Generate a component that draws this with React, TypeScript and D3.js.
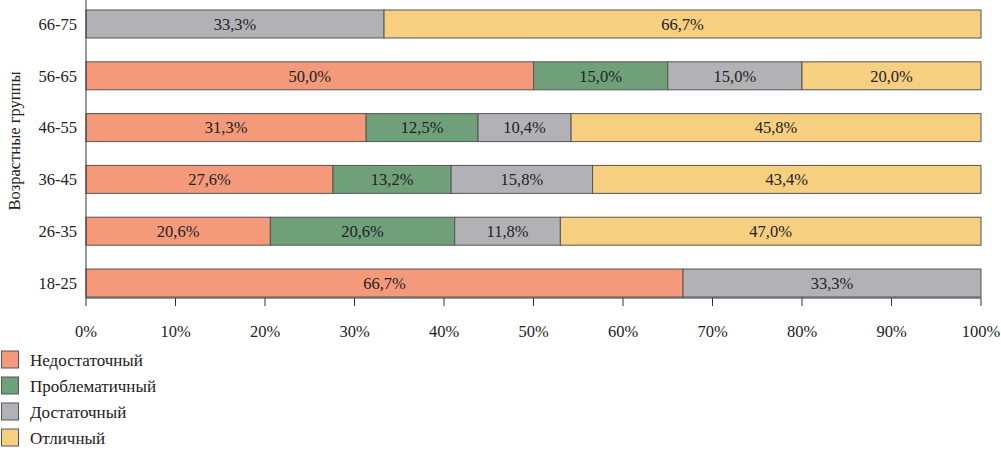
import React from "react";
import * as d3 from "d3";

const groups = ["66-75", "56-65", "46-55", "36-45", "26-35", "18-25"];
const seriesNames = ["Недостаточный", "Проблематичный", "Достаточный", "Отличный"];
const colors = ["#F4997A", "#6FA07A", "#B2B2B6", "#F7CF80"];
const insufficient = [0, 50.0, 31.3, 27.6, 20.6, 66.7];
const problematic = [0, 15.0, 12.5, 13.2, 20.6, 0];
const sufficient = [33.3, 15.0, 10.4, 15.8, 11.8, 33.3];
const excellent = [66.7, 20.0, 45.8, 43.4, 47.0, 0];
const xTicks = [0, 10, 20, 30, 40, 50, 60, 70, 80, 90, 100];

const seriesValues = [insufficient, problematic, sufficient, excellent];

const fstyle = { fontFamily: '"Liberation Serif", "FreeSerif", serif' };

export default function App() {
  const W = 1001, H = 450;
  const x = d3.scaleLinear().domain([0, 100]).range([86, 981]);
  const y = d3.scaleBand<string>().domain(groups).range([10, 297]).paddingInner(0.46).paddingOuter(0);
  const axisY = 298;

  const rows = groups.map((g, i) => {
    let acc = 0;
    return seriesValues.map((vals, s) => {
      const v = vals[i];
      const start = acc;
      acc += v;
      return { g, s, v, start, end: acc };
    });
  });

  return (
    <svg width={W} height={H} style={{ position: "absolute", left: 0, top: 0 }}>
      {rows.map((r) =>
        r.filter((d) => d.v > 0).map((d) => (
          <g key={d.g + d.s}>
            <rect
              x={x(d.start)}
              y={y(d.g)}
              width={x(d.end) - x(d.start)}
              height={y.bandwidth()}
              fill={colors[d.s]}
              stroke="#555"
              strokeWidth={1}
            />
            <text
              x={(x(d.start) + x(d.end)) / 2}
              y={(y(d.g) as number) + y.bandwidth() / 2}
              dy="0.35em"
              textAnchor="middle"
              fontSize={16.5}
              fill="#222"
              style={fstyle}
            >
              {d.v.toFixed(1).replace(".", ",") + "%"}
            </text>
          </g>
        ))
      )}
      <line x1={86} x2={86} y1={0} y2={axisY} stroke="#333" strokeWidth={1} />
      <line x1={86} x2={981} y1={axisY} y2={axisY} stroke="#333" strokeWidth={1} />
      {xTicks.map((t) => (
        <g key={t}>
          <line x1={x(t)} x2={x(t)} y1={axisY} y2={axisY + 8} stroke="#333" strokeWidth={1} />
          <text x={x(t)} y={337} textAnchor="middle" fontSize={16.5} fill="#222" style={fstyle}>
            {t + "%"}
          </text>
        </g>
      ))}
      {groups.map((g) => (
        <text key={g} x={77} y={(y(g) as number) + y.bandwidth() / 2} dy="0.35em" textAnchor="end" fontSize={16.5} fill="#222" style={fstyle}>
          {g}
        </text>
      ))}
      <text transform="translate(20,141) rotate(-90)" textAnchor="middle" fontSize={16.5} fill="#222" style={fstyle}>
        Возрастные группы
      </text>
      {seriesNames.map((n, i) => (
        <g key={n}>
          <rect x={1.5} y={351 + i * 26} width={17} height={17} fill={colors[i]} stroke="#555" strokeWidth={1} />
          <text x={30} y={360 + i * 26} dy="0.35em" fontSize={17} fill="#222" style={fstyle}>
            {n}
          </text>
        </g>
      ))}
    </svg>
  );
}
